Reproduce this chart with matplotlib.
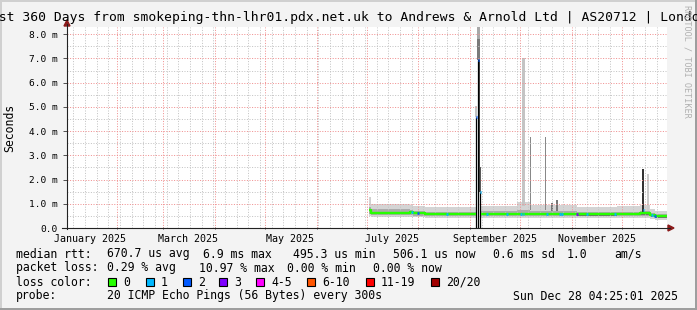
import matplotlib
matplotlib.use("Agg")
import matplotlib.pyplot as plt
import matplotlib.dates as mdates
from matplotlib.patches import Rectangle, Polygon
from matplotlib.lines import Line2D
from datetime import datetime, timedelta
import numpy as np

nan = np.nan
W, H = 697, 310

end_time = datetime(2025, 12, 28, 4, 25, 1)
start_time = end_time - timedelta(days=360)

# median rtt in ms, one value per step (step starts at step_times[i])
step_times = ["2025-07-02 16:00", "2025-07-03 12:00", "2025-07-27 00:00", "2025-07-29 00:00",
              "2025-08-05 00:00", "2025-09-04 07:00", "2025-09-07 14:00", "2025-09-29 00:00",
              "2025-10-07 00:00", "2025-11-04 00:00", "2025-11-28 00:00", "2025-12-12 00:00",
              "2025-12-18 00:00", "2025-12-21 00:00", "2025-12-28 04:25"]
median_ms = [0.74, 0.64, 0.66, 0.61, 0.57, nan, 0.58, 0.59, 0.58, 0.56, 0.58, 0.60, 0.52, 0.48]
# smoke: spread of the 20 pings
smoke_min = [0.50, 0.46, 0.46, 0.44, 0.42, nan, 0.42, 0.43, 0.42, 0.42, 0.43, 0.42, 0.38, 0.32]
smoke_q1 = [0.58, 0.53, 0.52, 0.50, 0.49, nan, 0.50, 0.50, 0.50, 0.49, 0.50, 0.50, 0.45, 0.40]
smoke_q3 = [0.88, 0.80, 0.76, 0.72, 0.68, nan, 0.70, 0.76, 0.72, 0.66, 0.68, 0.72, 0.62, 0.56]
smoke_max = [1.30, 0.98, 0.94, 0.90, 0.86, nan, 0.90, 1.08, 0.95, 0.86, 0.90, 0.95, 0.80, 0.72]

# ping spikes (smoke only)
spike_times = ["2025-07-03 00:00", "2025-10-03 00:00", "2025-10-07 04:00", "2025-10-16 04:00",
               "2025-10-20 00:00", "2025-10-23 00:00", "2025-12-14 00:00", "2025-12-17 00:00"]
spike_base = [0.90, 0.90, 0.75, 0.75, 0.70, 0.70, 0.60, 0.70]
spike_top = [1.30, 7.03, 3.75, 3.75, 1.03, 1.17, 2.42, 2.24]
spike_days = [0.6, 1.8, 0.6, 0.6, 1.0, 1.0, 1.2, 1.2]
spike_shade = ["#d0d0d0", "#c4c4c4", "#888888", "#888888", "#777777", "#777777", "#333333", "#cccccc"]

# early september outage
event_times = ["2025-09-04 07:00", "2025-09-06 00:00", "2025-09-07 05:00"]
event_median = [4.58, 6.93, 1.47]
event_smoke = [5.05, 8.30, 2.50]
event_cat = [2, 2, 1]

# median points with packet loss
loss_times = ["2025-07-28 05:00", "2025-07-31 19:00", "2025-08-18 00:00", "2025-09-11 00:00",
              "2025-09-23 00:00", "2025-10-01 14:00", "2025-10-03 02:00", "2025-10-17 00:00",
              "2025-10-25 00:00", "2025-10-26 05:00", "2025-11-04 00:00", "2025-11-10 00:00",
              "2025-11-27 00:00", "2025-12-14 00:00", "2025-12-19 00:00", "2025-12-21 00:00"]
loss_rtt = [0.68, 0.61, 0.57, 0.58, 0.58, 0.59, 0.59, 0.59, 0.59, 0.59, 0.57, 0.56,
            0.58, 0.75, 0.53, 0.49]
loss_cat = [1, 2, 1, 1, 1, 1, 1, 1, 1, 1, 3, 1, 1, 1, 1, 2]

loss_labels = ["0", "1", "2", "3", "4-5", "6-10", "11-19", "20/20"]
loss_colors = ["#26ff00", "#00b8ff", "#0059ff", "#7e00ff", "#ff00ff", "#ff5500", "#ff0000", "#a10000"]

title = "Last 360 Days from smokeping-thn-lhr01.pdx.net.uk to Andrews & Arnold Ltd | AS20712 | London"


def d2n(s):
    return mdates.date2num(datetime.strptime(s, "%Y-%m-%d %H:%M"))


def fx(x):
    return x / W


def fy(y):
    return 1 - y / H


mono = "DejaVu Sans Mono"
plt.rcParams["font.family"] = mono

fig = plt.figure(figsize=(W / 100, H / 100), dpi=100, facecolor="#f3f3f3")
ax = fig.add_axes([fx(67), fy(228), 600 / W, (228 - 27) / H])
ax.set_facecolor("white")

x0 = mdates.date2num(start_time)
x1 = mdates.date2num(end_time)
ax.set_xlim(x0, x1)
ax.set_ylim(0, 8.3)

# step arrays
edges = [d2n(s) for s in step_times]
sx, s_med, s_min, s_q1, s_q3, s_max = [], [], [], [], [], []
for i in range(len(median_ms)):
    for e in (edges[i], edges[i + 1]):
        sx.append(e)
        s_med.append(median_ms[i])
        s_min.append(smoke_min[i])
        s_q1.append(smoke_q1[i])
        s_q3.append(smoke_q3[i])
        s_max.append(smoke_max[i])
sx = np.array(sx)

ax.fill_between(sx, s_min, s_max, color="#d4d4d4", lw=0, zorder=1)
ax.fill_between(sx, s_q1, s_q3, color="#ababab", lw=0, zorder=1)
ax.fill_between(sx, np.array(s_med) - 0.05, np.array(s_med) + 0.03, color="#6e6e6e", lw=0, zorder=1)

# spikes
for t, b, top, wd, c in zip(spike_times, spike_base, spike_top, spike_days, spike_shade):
    ax.bar(d2n(t), top - b, bottom=b, width=wd, color=c, lw=0, zorder=1)

# outage event
ev = [d2n(t) for t in event_times]
ax.bar(ev[0] + 0.3, event_smoke[0] - event_median[0], bottom=event_median[0], width=1.2,
       color="#c4c4c4", lw=0, zorder=1)
ax.bar(ev[1], 7.8 - event_median[1], bottom=event_median[1], width=1.4, color="#7a7a7a", lw=0, zorder=1)
ax.bar(ev[1], event_smoke[1] - 7.8, bottom=7.8, width=1.4, color="#a8a8a8", lw=0, zorder=1)
ax.bar(ev[2], event_smoke[2] - event_median[2], bottom=event_median[2], width=1.0,
       color="#5a5a5a", lw=0, zorder=1)
ax.bar(ev[1], event_median[1], width=1.0, color="#111111", lw=0, zorder=3)
ax.bar(ev[1] + 0.6, event_median[1] - event_median[2], bottom=event_median[2], width=0.6,
       color="#444444", lw=0, zorder=3)
for t, m in zip(ev, event_median):
    ax.vlines(t, 0, m, color="black", lw=0.9, zorder=3)
ax.hlines(event_median[0], ev[0], ev[0] + 1.0, color=loss_colors[event_cat[0]], lw=2.2, zorder=4)
ax.hlines(event_median[1], ev[1] - 0.5, ev[1] + 0.5, color=loss_colors[event_cat[1]], lw=2.2, zorder=4)
ax.hlines(event_median[2], ev[2] - 0.3, ev[2] + 0.3, color=loss_colors[event_cat[2]], lw=2.2, zorder=4)

# grid (dotted)
grid_kw = dict(lw=0.72, dashes=(1, 1.6), zorder=2)
for m in range(1, 13):
    ax.axvline(mdates.date2num(datetime(2025, m, 1)), color="#f09090", **grid_kw)
day = datetime(2025, 1, 6)
while day < end_time:
    if day.day != 1:
        ax.axvline(mdates.date2num(day), color="#c4c4c4", **grid_kw)
    day += timedelta(days=7)
for v in np.arange(0.5, 8.3, 0.5):
    if v % 1 == 0:
        ax.axhline(v, color="#f09090", **grid_kw)
    else:
        ax.axhline(v, color="#c4c4c4", **grid_kw)

# median line
ax.plot(sx, s_med, color=loss_colors[0], lw=1.7, zorder=3, solid_capstyle="butt")
for t, r, c in zip(loss_times, loss_rtt, loss_cat):
    n = d2n(t)
    ax.hlines(r, n - 0.5, n + 0.5, color=loss_colors[c], lw=1.9, zorder=4)

# axes and ticks
for s in ax.spines.values():
    s.set_visible(False)
ax.set_yticks(np.arange(0, 9), ["0.0"] + ["%d.0 m" % v for v in range(1, 9)])
ax.tick_params(axis="y", length=3, width=0.72, color="#555555", pad=4, labelsize=6.8)
ax.set_xticks([mdates.date2num(datetime(2025, m, 1)) for m in range(2, 13)], [""] * 11)
ax.tick_params(axis="x", which="major", length=2, width=0.72, direction="inout", color="#555555")
lab_months = [1, 3, 5, 7, 9, 11]
ax.set_xticks([mdates.date2num(datetime(2025, m, 16)) for m in lab_months],
              [datetime(2025, m, 1).strftime("%B %Y") for m in lab_months], minor=True)
ax.tick_params(axis="x", which="minor", length=0, pad=4, labelsize=7.2)

# axis lines with arrows
fig.add_artist(Line2D([fx(67), fx(67)], [fy(229), fy(24)], color="#222222", lw=0.8))
fig.add_artist(Line2D([fx(62), fx(670)], [fy(228), fy(228)], color="#222222", lw=0.8))
fig.add_artist(Polygon([(fx(67), fy(20)), (fx(64), fy(26)), (fx(70), fy(26))], closed=True,
                       color="#8b1a1a", transform=fig.transFigure))
fig.add_artist(Polygon([(fx(674), fy(228)), (fx(668), fy(225)), (fx(668), fy(231))], closed=True,
                       color="#8b1a1a", transform=fig.transFigure))

# frame
fig.add_artist(Rectangle((0, fy(2)), 1, 2 / H, color="#d0d0d0", transform=fig.transFigure, lw=0))
fig.add_artist(Rectangle((0, 0), 2 / W, 1, color="#d0d0d0", transform=fig.transFigure, lw=0))
fig.add_artist(Rectangle((0, 0), 1, 2 / H, color="#9e9e9e", transform=fig.transFigure, lw=0))
fig.add_artist(Rectangle((fx(695), 0), 2 / W, 1, color="#9e9e9e", transform=fig.transFigure, lw=0))

# texts
fig.text(fx(345.6), fy(18), title, ha="center", va="center", fontsize=9.4, color="black")
fig.text(fx(10), fy(128), "Seconds", rotation=90, ha="center", va="center", fontsize=8.3)
fig.text(fx(687), fy(5), "RRDTOOL / TOBI OETIKER", rotation=270, ha="center", va="top",
         fontsize=6.1, color="#b0b0b0")

fs = 8.3
rows = [
    (254, [(16, "median rtt:"), (107, "670.7 us avg"), (203, "6.9 ms max"), (293, "495.3 us min"),
           (393, "506.1 us now"), (493, "0.6 ms sd"), (567, "1.0"), (614, "am/s")]),
    (268, [(16, "packet loss:"), (107, "0.29 % avg"), (199, "10.97 % max"), (287, "0.00 % min"),
           (373, "0.00 % now")]),
    (296, [(16, "probe:"), (107, "20 ICMP Echo Pings (56 Bytes) every 300s"),
           (513, "Sun Dec 28 04:25:01 2025")]),
]
for y, items in rows:
    for x, s in items:
        fig.text(fx(x), fy(y), s, ha="left", va="center", fontsize=fs)

fig.text(fx(16), fy(282), "loss color:", ha="left", va="center", fontsize=fs)
box_x = [108, 146, 183, 219, 256, 307, 366, 431]
for bx, lab, col in zip(box_x, loss_labels, loss_colors):
    fig.add_artist(Rectangle((fx(bx), fy(286)), 8 / W, 8 / H, facecolor=col, edgecolor="black",
                             lw=0.8, transform=fig.transFigure))
    fig.text(fx(bx + 15), fy(282), lab, ha="left", va="center", fontsize=fs)

fig.savefig("out.png", dpi=100, facecolor=fig.get_facecolor())
